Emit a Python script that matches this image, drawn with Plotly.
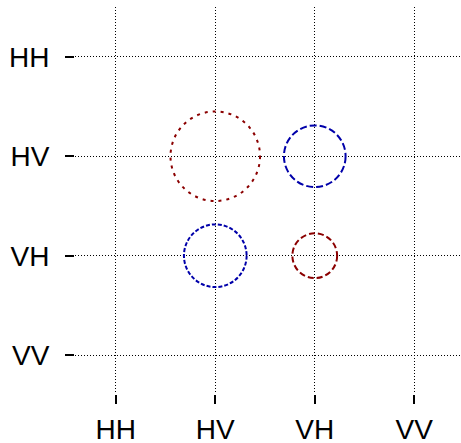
import plotly.graph_objects as go

# Polarisation channels on both axes
labels = ["HH", "HV", "VH", "VV"]

# Circles: position (column, row) and radius in axis units
circle_col = ["HV", "VH", "HV", "VH"]
circle_row = ["HV", "HV", "VH", "VH"]
circle_radius = [0.45, 0.31, 0.315, 0.225]
circle_color = ["#8b0000", "#0000aa", "#0000aa", "#8b0000"]
circle_dash = ["3px,5px", "7px,3px", "4px,2px", "6px,3px"]

idx = {lab: i for i, lab in enumerate(labels)}
cx = [idx[c] for c in circle_col]
cy = [idx[r] for r in circle_row]

fig = go.Figure()

# invisible anchor trace at the circle centres
fig.add_trace(go.Scatter(x=cx, y=cy, mode="markers",
                         marker=dict(size=1, opacity=0),
                         hoverinfo="skip", showlegend=False))

for x, y, r, col, dash in zip(cx, cy, circle_radius, circle_color, circle_dash):
    fig.add_shape(type="circle", xref="x", yref="y",
                  x0=x - r, x1=x + r, y0=y - r, y1=y + r,
                  line=dict(color=col, width=2, dash=dash),
                  fillcolor="rgba(0,0,0,0)")

axis_common = dict(
    tickmode="array",
    tickvals=list(range(len(labels))),
    ticktext=labels,
    showgrid=True,
    gridcolor="black",
    gridwidth=1,
    griddash="1px,2px",
    zeroline=False,
    showline=False,
    ticks="outside",
    ticklen=9,
    tickwidth=1.5,
    tickcolor="black",
    tickfont=dict(family="Liberation Sans, Arial, sans-serif", size=28, color="black"),
    automargin=False,
    fixedrange=True,
)

fig.update_layout(
    width=461, height=443,
    margin=dict(l=75, r=0, t=7, b=49),
    paper_bgcolor="white",
    plot_bgcolor="white",
    showlegend=False,
    xaxis=dict(range=[-0.41, 3.47], ticklabelstandoff=1, **axis_common),
    yaxis=dict(range=[3.39, -0.50], ticklabelstandoff=10, **axis_common),
)

fig.write_html("out.html")
